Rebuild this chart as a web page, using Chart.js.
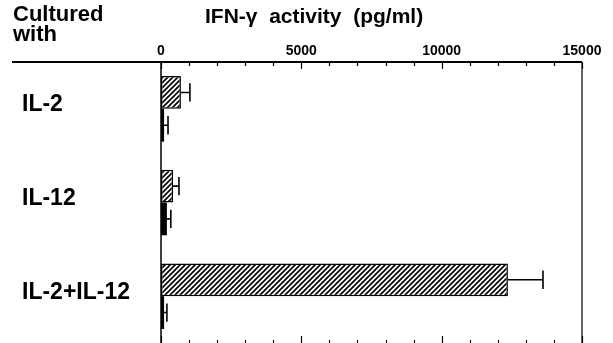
<!DOCTYPE html>
<html><head><meta charset="utf-8">
<script src="https://cdn.jsdelivr.net/npm/chart.js@4/dist/chart.umd.min.js"></script>
<style>html,body{margin:0;padding:0;background:#fff}</style>
</head><body>
<canvas id="c" width="613" height="343" style="width:613px;height:343px;display:block"></canvas>
<script>
const categories = ['IL-2', 'IL-12', 'IL-2+IL-12'];
const hatchedValues = [710, 430, 12360];
const hatchedErrors = [320, 210, 1250];
const solidValues = [110, 210, 110];
const solidErrors = [140, 140, 100];
const axisMin = 0, axisMax = 15000, minorStep = 1000, majorStep = 5000;
const headerLeft = ['Cultured', 'with'];
const axisTitle = 'IFN-\u03B3  activity  (pg/ml)';

const FONT = '"Liberation Sans", Arial, Helvetica, sans-serif';

function makeHatch() {
  const s = 5;
  const p = document.createElement('canvas');
  p.width = s; p.height = s;
  const g = p.getContext('2d');
  g.fillStyle = '#fff'; g.fillRect(0, 0, s, s);
  g.strokeStyle = '#000'; g.lineWidth = 1.7;
  g.beginPath();
  g.moveTo(-1, s + 1); g.lineTo(s + 1, -1);
  g.moveTo(-1, 1); g.lineTo(1, -1);
  g.moveTo(s - 1, s + 1); g.lineTo(s + 1, s - 1);
  g.stroke();
  return document.getElementById('c').getContext('2d').createPattern(p, 'repeat');
}

const errorBars = {
  id: 'errorBars',
  afterDatasetsDraw(chart) {
    const ctx = chart.ctx, xs = chart.scales.x;
    const errs = [hatchedErrors, solidErrors];
    chart.data.datasets.forEach((ds, i) => {
      const meta = chart.getDatasetMeta(i);
      meta.data.forEach((el, j) => {
        const x0 = el.x;
        const x1 = xs.getPixelForValue(ds.data[j] + errs[i][j]);
        const h = el.height * 0.28;
        ctx.save();
        ctx.strokeStyle = '#000'; ctx.lineWidth = 1.6;
        ctx.beginPath();
        ctx.moveTo(x0, el.y); ctx.lineTo(x1, el.y);
        ctx.moveTo(x1, el.y - h); ctx.lineTo(x1, el.y + h);
        ctx.stroke();
        ctx.restore();
      });
    });
  }
};

const frame = {
  id: 'frame',
  afterDraw(chart) {
    const ctx = chart.ctx, a = chart.chartArea, xs = chart.scales.x;
    ctx.save();
    ctx.strokeStyle = '#000';
    ctx.lineWidth = 2;
    ctx.beginPath();
    ctx.moveTo(12, a.top); ctx.lineTo(a.right, a.top);
    ctx.stroke();
    ctx.lineWidth = 1.5;
    ctx.beginPath();
    ctx.moveTo(a.left, a.top); ctx.lineTo(a.left, a.bottom);
    ctx.stroke();
    ctx.strokeStyle = '#333';
    ctx.beginPath();
    ctx.moveTo(a.right, a.top); ctx.lineTo(a.right, a.bottom);
    ctx.stroke();
    ctx.strokeStyle = '#000';
    ctx.lineWidth = 1.2;
    xs.ticks.forEach(t => {
      const px = Math.round(xs.getPixelForValue(t.value)) + 0.5;
      const major = t.value % majorStep === 0;
      ctx.beginPath();
      ctx.moveTo(px, a.top); ctx.lineTo(px, a.top + (major ? 7 : 4));
      ctx.moveTo(px, a.bottom); ctx.lineTo(px, a.bottom - (major ? 7 : 3));
      ctx.stroke();
    });
    ctx.fillStyle = '#000';
    ctx.textBaseline = 'alphabetic';
    ctx.textAlign = 'left';
    ctx.font = 'bold 22px ' + FONT;
    ctx.fillText(headerLeft[0], 13, 21);
    ctx.fillText(headerLeft[1], 13, 41);
    ctx.font = 'bold 21px ' + FONT;
    ctx.fillText(axisTitle, 205, 23);
    ctx.restore();
  }
};

new Chart(document.getElementById('c'), {
  type: 'bar',
  data: {
    labels: categories,
    datasets: [
      { label: 'hatched', data: hatchedValues, backgroundColor: makeHatch(), borderColor: '#000', borderWidth: 1.5, borderSkipped: false },
      { label: 'solid', data: solidValues, backgroundColor: '#000', borderColor: '#000', borderWidth: 0 }
    ]
  },
  options: {
    indexAxis: 'y',
    responsive: false,
    devicePixelRatio: 1,
    animation: false,
    layout: { padding: { left: 22, right: 31, top: 0, bottom: 0 } },
    datasets: { bar: { categoryPercentage: 0.7, barPercentage: 1 } },
    plugins: { legend: { display: false }, tooltip: { enabled: false }, title: { display: false } },
    scales: {
      x: {
        type: 'linear', position: 'top', min: axisMin, max: axisMax,
        grid: { display: false, drawTicks: false },
        border: { display: false },
        ticks: {
          stepSize: minorStep, autoSkip: false, maxRotation: 0, padding: 2,
          color: '#000', font: { family: FONT, size: 14, weight: 'bold' },
          callback: v => (v % majorStep === 0 ? String(v) : '')
        },
        afterFit: s => { s.height = 62; s.paddingLeft = 0; }
      },
      y: {
        type: 'category', position: 'left',
        grid: { display: false, drawTicks: false },
        border: { display: false },
        ticks: {
          crossAlign: 'far', padding: 0, labelOffset: -4,
          color: '#000', font: { family: FONT, size: 23, weight: 'bold' }
        },
        afterFit: s => { s.width = 139; s.paddingTop = 0; s.paddingBottom = 0; }
      }
    }
  },
  plugins: [errorBars, frame]
});
</script>
</body></html>
